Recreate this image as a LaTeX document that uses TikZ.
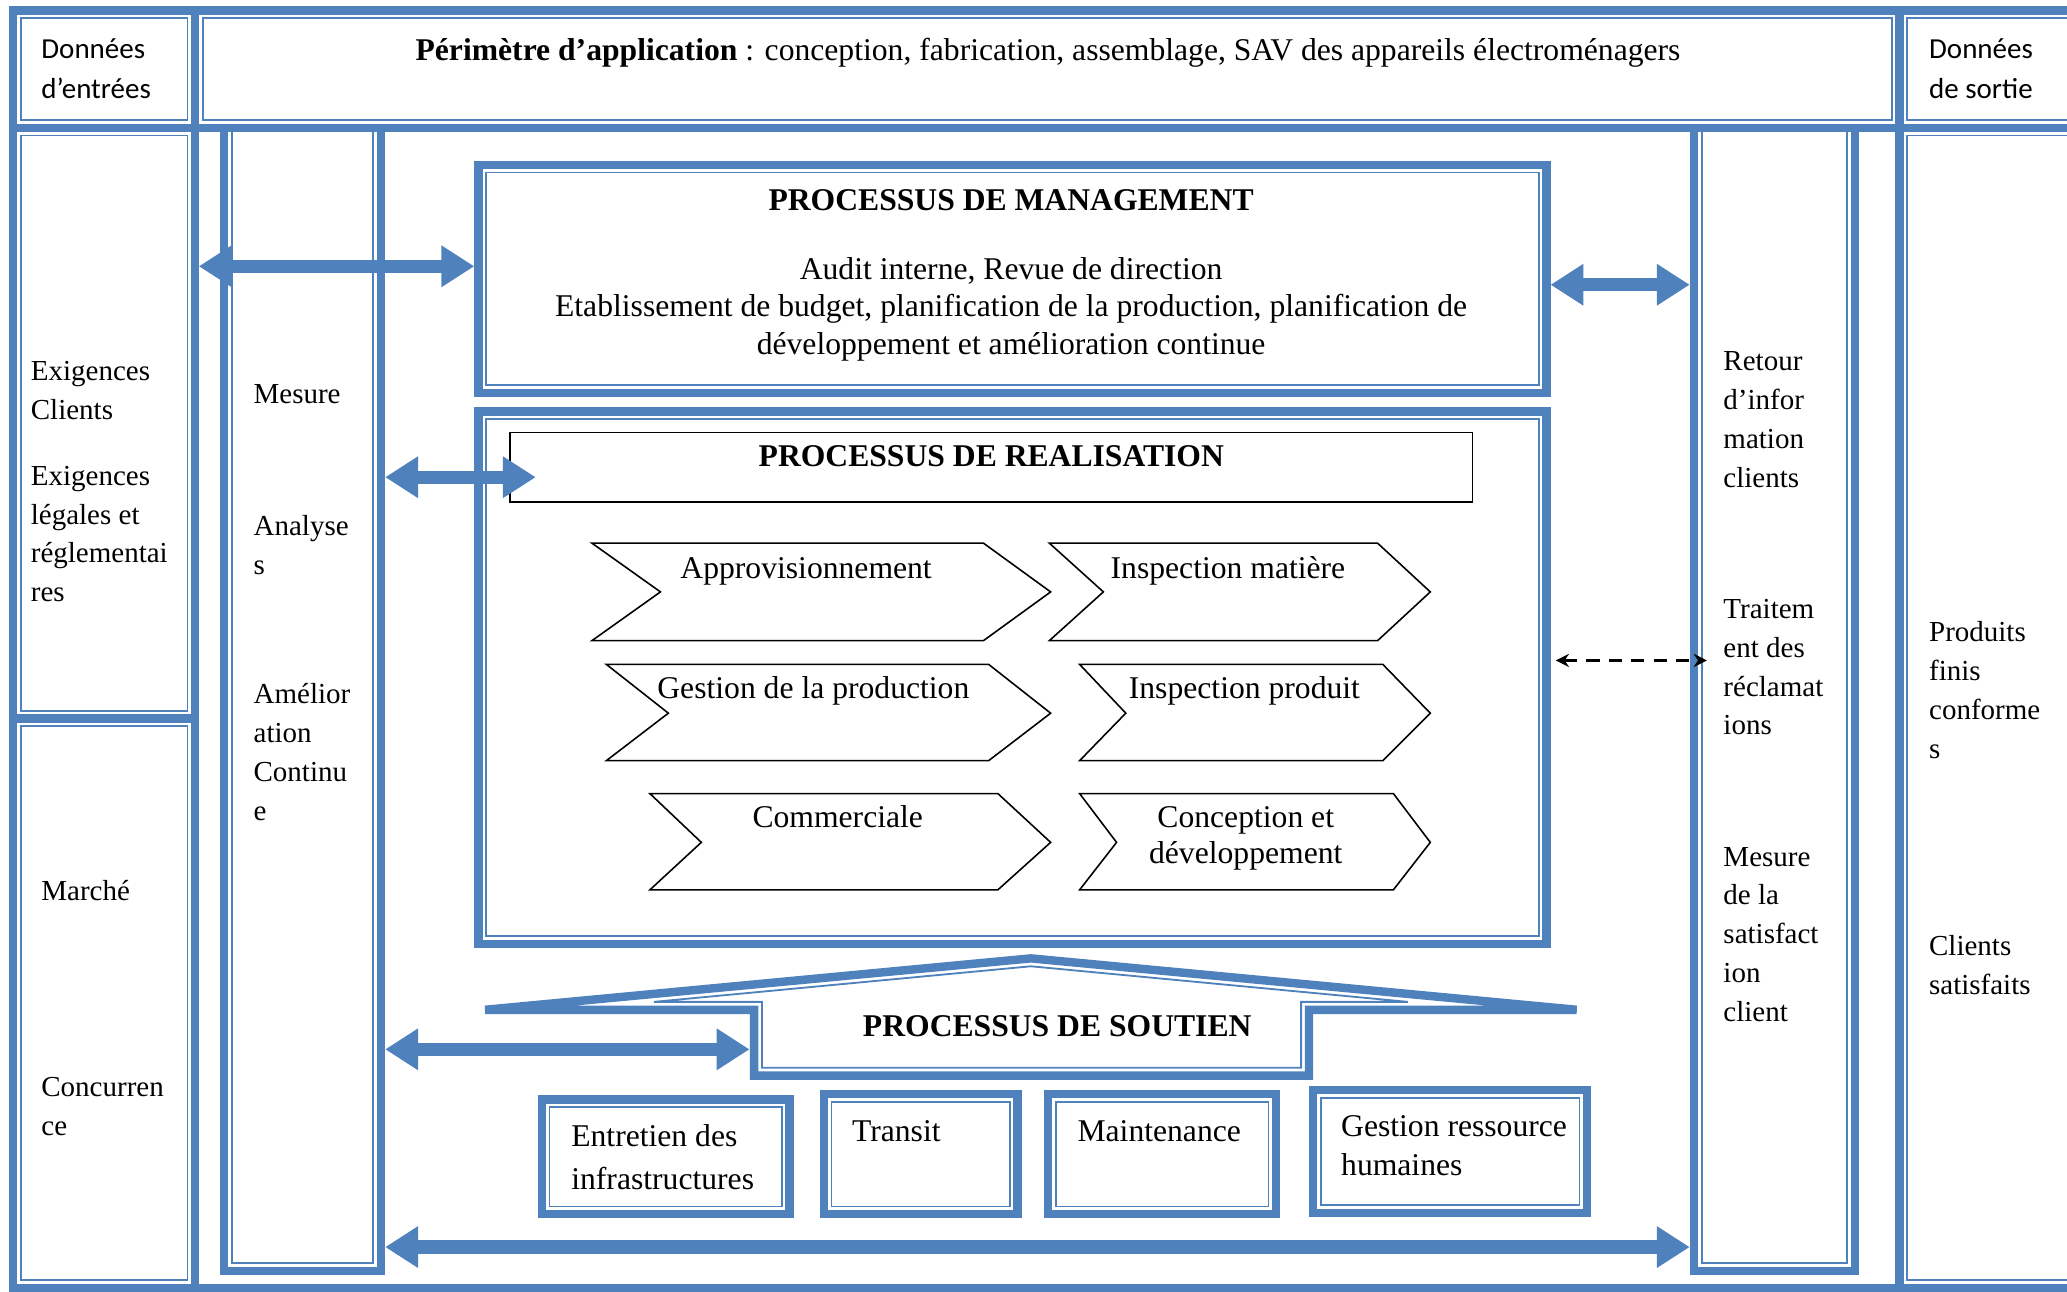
\documentclass[tikz,border=0pt]{standalone}
\usepackage{fontspec}
\setmainfont{Liberation Serif}
\newfontfamily\calib{Carlito}
\usetikzlibrary{arrows.meta,fit,calc}
\definecolor{bl}{HTML}{4F81BD}
% double box: thick outer line, thin inner line
\newcommand\dblbox[3]{%
  \node[cellframe, fit={#2 #3}] (#1) {};
  \draw[thinframe] ($(#1.north west)+(9,9)$) rectangle ($(#1.south east)+(-9,-9)$);}
% column box open at the top
\newcommand\colfr[3]{%
  \node[cellframe, fit={#2 #3}] (#1) {};
  \draw[thinframe] ($(#1.north west)+(9,3.2)$) -- ($(#1.south west)+(9,-9)$) -- ($(#1.south east)+(-9,-9)$) -- ($(#1.north east)+(-9,3.2)$);}
\begin{document}
\begin{tikzpicture}[x=0.5pt,y=-0.5pt,
  cellframe/.style={draw=bl,line width=3.2pt,inner sep=0pt},
  thinframe/.style={draw=bl,line width=0.7pt},
  tb/.style={inner sep=0pt,font=\fontsize{12pt}{14pt}\selectfont},
  ts/.style={inner sep=0pt,font=\fontsize{11pt}{13pt}\selectfont},
  tc/.style={inner sep=0pt,font=\calib\fontsize{11pt}{13pt}\selectfont},
  chev/.style={draw=black,line width=0.6pt,line join=miter},
  bigarrow/.style={draw=bl,line width=5pt,{Triangle[length=12.5pt,width=15pt]}-{Triangle[length=12.5pt,width=15pt]}},
  dasharrow/.style={draw=black,line width=1pt,dash pattern=on 5pt off 3.5pt,{Stealth[length=5pt,width=5pt]}-{Stealth[length=5pt,width=5pt]}}
]
\useasboundingbox (0,0) rectangle (1568,980);

% ---------- outer table ----------
\dblbox{hdrL}{(10,8)}{(148,97)}
\dblbox{hdrM}{(148,8)}{(1441,97)}
\dblbox{hdrR}{(1441,8)}{(1590,97)}
\dblbox{inTop}{(10,97)}{(148,545)}
\dblbox{inBot}{(10,545)}{(148,977)}
\node[cellframe, fit={(148,97) (1441,977)}] (body) {};
\dblbox{outR}{(1441,97)}{(1590,977)}

% ---------- inner columns ----------
\colfr{mes}{(170,97)}{(289,964)}
\colfr{ret}{(1285,97)}{(1407,964)}

% ---------- process boxes ----------
\dblbox{mgmt}{(363,125)}{(1173,298)}
\dblbox{real}{(363,312)}{(1173,716)}
\node[draw=black,line width=0.6pt,inner sep=0pt,fit={(387,328) (1117,381)}] (rtitle) {};

% ---------- support (house shape) ----------
\draw[draw=bl,line width=3.2pt,line join=miter]
  (368,766) -- (782,727) -- (1196,766) -- (993,766) -- (993,816) -- (572,816) -- (572,766) -- cycle;
\draw[thinframe]
  (496,760) -- (782,733) -- (1068,760) -- (987,760) -- (987,810) -- (578,810) -- (578,760) -- cycle;
\node[inner sep=0pt,fit={(572,766) (993,816)}] (soutbox) {};

\dblbox{entr}{(411,834)}{(599,921)}
\dblbox{trans}{(625,830)}{(772,921)}
\dblbox{maint}{(795,830)}{(968,921)}
\dblbox{grh}{(996,827)}{(1204,920)}

% ---------- chevrons ----------
\draw[chev] (449,412) -- (746,412) -- (797,449) -- (746,486) -- (449,486) -- (501,449) -- cycle;
\draw[chev] (796,412) -- (1045,412) -- (1085,449) -- (1045,486) -- (796,486) -- (837,449) -- cycle;
\draw[chev] (460,504) -- (750,504) -- (797,541) -- (750,577) -- (460,577) -- (507,541) -- cycle;
\draw[chev] (819,504) -- (1049,504) -- (1085,541) -- (1049,577) -- (819,577) -- (854,541) -- cycle;
\draw[chev] (493,602) -- (757,602) -- (797,639) -- (757,675) -- (493,675) -- (532,639) -- cycle;
\draw[chev] (819,602) -- (1057,602) -- (1085,639) -- (1057,675) -- (819,675) -- (847,639) -- cycle;

% ---------- texts ----------
\node[tc,anchor=base west] (tl1) at (31,44) {Données};
\node[tc,anchor=base west] (tl2) at (31,75) {d’entrées};
\node[tc,anchor=base west] (tr1) at (1463,44) {Données};
\node[tc,anchor=base west] (tr2) at (1463,75) {de sortie};
\node[tb,anchor=base] (perim) at (795,46) {\textbf{Périmètre d’application} : conception, fabrication, assemblage, SAV des appareils électroménagers};

\foreach \t [count=\i from 0] in {Exigences, Clients}
  \node[ts,anchor=base west] (exc\i) at (23,289+29.5*\i) {\t};
\foreach \t [count=\i from 0] in {Exigences, légales et, réglementai, res}
  \node[ts,anchor=base west] (exl\i) at (23,368+29.5*\i) {\t};
\node[ts,anchor=base west] (march) at (31,683) {Marché};
\foreach \t [count=\i from 0] in {Concurren, ce}
  \node[ts,anchor=base west] (conc\i) at (31,832+29.5*\i) {\t};

\node[ts,anchor=base west] (mes0) at (192,306) {Mesure};
\foreach \t [count=\i from 0] in {Analyse, s}
  \node[ts,anchor=base west] (ana\i) at (192,406+29.5*\i) {\t};
\foreach \t [count=\i from 0] in {Amélior, ation, Continu, e}
  \node[ts,anchor=base west] (ame\i) at (192,534+29.5*\i) {\t};

\foreach \t [count=\i from 0] in {Retour, d’infor, mation, clients}
  \node[ts,anchor=base west] (rti\i) at (1307,281+29.5*\i) {\t};
\foreach \t [count=\i from 0] in {Traitem, ent des, réclamat, ions}
  \node[ts,anchor=base west] (trc\i) at (1307,469+29.5*\i) {\t};
\foreach \t [count=\i from 0] in {Mesure, de la, satisfact, ion, client}
  \node[ts,anchor=base west] (msc\i) at (1307,657+29.5*\i) {\t};

\foreach \t [count=\i from 0] in {Produits, finis, conforme, s}
  \node[ts,anchor=base west] (pfc\i) at (1463,487+29.5*\i) {\t};
\foreach \t [count=\i from 0] in {Clients, satisfaits}
  \node[ts,anchor=base west] (cls\i) at (1463,725+29.5*\i) {\t};

\node[tb,anchor=base] (mgT) at (767,160) {\textbf{PROCESSUS DE MANAGEMENT}};
\node[tb,anchor=base] (mg1) at (767,212) {Audit interne, Revue de direction};
\node[tb,anchor=base] (mg2) at (767,240) {Etablissement de budget, planification de la production, planification de};
\node[tb,anchor=base] (mg3) at (767,269) {développement et amélioration continue};

\node[tb,anchor=base] (reT) at (752,354) {\textbf{PROCESSUS DE REALISATION}};
\node[tb,anchor=base] (c1) at (611.5,439) {Approvisionnement};
\node[tb,anchor=base] (c2) at (931.5,439) {Inspection matière};
\node[tb,anchor=base] (c3) at (617,530) {Gestion de la production};
\node[tb,anchor=base] (c4) at (944,530) {Inspection produit};
\node[tb,anchor=base] (c5) at (635.5,628) {Commerciale};
\node[tb,anchor=base] (c6a) at (945,628) {Conception et};
\node[tb,anchor=base] (c6b) at (945,655) {développement};

\node[tb,anchor=base] (soT) at (802,786) {\textbf{PROCESSUS DE SOUTIEN}};
\node[tb,anchor=base west] (en1) at (433,870) {Entretien des};
\node[tb,anchor=base west] (en2) at (433,902) {infrastructures};
\node[tb,anchor=base west] (trT) at (646,866) {Transit};
\node[tb,anchor=base west] (maT) at (817,866) {Maintenance};
\node[tb,anchor=base west] (gr1) at (1017,862) {Gestion ressource};
\node[tb,anchor=base west] (gr2) at (1017,892) {humaines};

% ---------- connectors ----------
\coordinate (r1) at (0,202);
\coordinate (r2) at (0,216);
\coordinate (r3) at (0,362);
\coordinate (rd) at (0,501);
\coordinate (r4) at (0,796);
\coordinate (r5) at (0,946);
\draw[bigarrow] ($(body.west |- r1)+(6,0)$) -- (mgmt.west |- r1);
\draw[bigarrow] (mgmt.east |- r2) -- (ret.west |- r2);
\draw[bigarrow] (mes.east |- r3) -- ($(rtitle.west |- r3)+(20,0)$);
\draw[bigarrow] (mes.east |- r4) -- ($(soutbox.west |- r4)+(-3,0)$);
\draw[bigarrow] (mes.east |- r5) -- (ret.west |- r5);
\draw[dasharrow] ($(real.east |- rd)+(4,0)$) -- ($(ret.west |- rd)+(13,0)$);
\end{tikzpicture}
\end{document}
